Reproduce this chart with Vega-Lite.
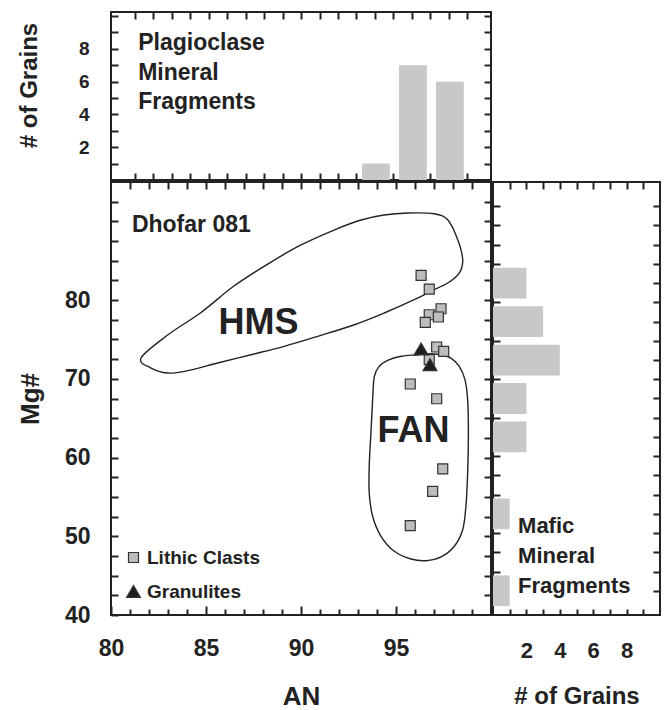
{
  "$schema": "https://vega.github.io/schema/vega-lite/v6.json",
  "padding": {"top": 6, "left": 16, "right": 5, "bottom": 0},
  "spacing": -2,
  "config": {
    "view": {"stroke": "#222", "strokeWidth": 2},
    "font": "Liberation Sans",
    "axis": {"domain": false, "grid": false, "tickColor": "#222", "tickWidth": 2, "labelFont": "Liberation Sans", "labelFontWeight": "bold", "labelColor": "#222", "titleFont": "Liberation Sans", "titleFontWeight": "bold", "titleColor": "#222", "labelFlush": false, "labelOverlap": false},
    "text": {"font": "Liberation Sans", "fontWeight": "bold", "color": "#222"}
  },
  "datasets": {
    "plag": [
      {"start": 93.3, "end": 94.8, "count": 1},
      {"start": 95.3, "end": 96.8, "count": 7},
      {"start": 97.3, "end": 98.8, "count": 6}
    ],
    "plagText": [
      {"x": 81.2, "y": 8.35, "label": "Plagioclase"},
      {"x": 81.2, "y": 6.52, "label": "Mineral"},
      {"x": 81.2, "y": 4.76, "label": "Fragments"}
    ],
    "mafic": [
      {"lo": 80.5, "hi": 84.5, "count": 2},
      {"lo": 75.5, "hi": 79.5, "count": 3},
      {"lo": 70.5, "hi": 74.5, "count": 4},
      {"lo": 65.5, "hi": 69.5, "count": 2},
      {"lo": 60.5, "hi": 64.5, "count": 2},
      {"lo": 50.5, "hi": 54.5, "count": 1},
      {"lo": 40.5, "hi": 44.5, "count": 1}
    ],
    "maficText": [
      {"x": 1.5, "y": 50.9, "label": "Mafic"},
      {"x": 1.5, "y": 47.0, "label": "Mineral"},
      {"x": 1.5, "y": 43.1, "label": "Fragments"}
    ],
    "outline": [
      {"region": "HMS", "i": 0, "an": 81.58, "mg": 72.64},
      {"region": "HMS", "i": 1, "an": 82.98, "mg": 75.56},
      {"region": "HMS", "i": 2, "an": 84.74, "mg": 78.43},
      {"region": "HMS", "i": 3, "an": 86.47, "mg": 81.79},
      {"region": "HMS", "i": 4, "an": 88.25, "mg": 84.58},
      {"region": "HMS", "i": 5, "an": 90.0, "mg": 87.0},
      {"region": "HMS", "i": 6, "an": 91.74, "mg": 88.9},
      {"region": "HMS", "i": 7, "an": 93.16, "mg": 90.17},
      {"region": "HMS", "i": 8, "an": 94.37, "mg": 90.8},
      {"region": "HMS", "i": 9, "an": 95.62, "mg": 91.06},
      {"region": "HMS", "i": 10, "an": 97.0, "mg": 90.97},
      {"region": "HMS", "i": 11, "an": 97.72, "mg": 90.2},
      {"region": "HMS", "i": 12, "an": 98.25, "mg": 87.67},
      {"region": "HMS", "i": 13, "an": 98.51, "mg": 85.13},
      {"region": "HMS", "i": 14, "an": 98.33, "mg": 83.44},
      {"region": "HMS", "i": 15, "an": 97.72, "mg": 82.17},
      {"region": "HMS", "i": 16, "an": 96.84, "mg": 81.12},
      {"region": "HMS", "i": 17, "an": 95.96, "mg": 80.05},
      {"region": "HMS", "i": 18, "an": 94.38, "mg": 78.36},
      {"region": "HMS", "i": 19, "an": 92.81, "mg": 76.87},
      {"region": "HMS", "i": 20, "an": 90.88, "mg": 75.4},
      {"region": "HMS", "i": 21, "an": 89.12, "mg": 74.13},
      {"region": "HMS", "i": 22, "an": 87.37, "mg": 73.06},
      {"region": "HMS", "i": 23, "an": 85.62, "mg": 72.01},
      {"region": "HMS", "i": 24, "an": 83.86, "mg": 70.95},
      {"region": "HMS", "i": 25, "an": 82.98, "mg": 70.74},
      {"region": "HMS", "i": 26, "an": 82.11, "mg": 71.37},
      {"region": "FAN", "i": 0, "an": 96.14, "mg": 73.06},
      {"region": "FAN", "i": 1, "an": 95.26, "mg": 72.86},
      {"region": "FAN", "i": 2, "an": 94.56, "mg": 72.35},
      {"region": "FAN", "i": 3, "an": 94.12, "mg": 71.59},
      {"region": "FAN", "i": 4, "an": 93.86, "mg": 70.32},
      {"region": "FAN", "i": 5, "an": 93.77, "mg": 67.35},
      {"region": "FAN", "i": 6, "an": 93.68, "mg": 63.12},
      {"region": "FAN", "i": 7, "an": 93.59, "mg": 58.89},
      {"region": "FAN", "i": 8, "an": 93.59, "mg": 55.5},
      {"region": "FAN", "i": 9, "an": 93.77, "mg": 52.54},
      {"region": "FAN", "i": 10, "an": 94.21, "mg": 50.0},
      {"region": "FAN", "i": 11, "an": 94.91, "mg": 48.09},
      {"region": "FAN", "i": 12, "an": 95.79, "mg": 47.11},
      {"region": "FAN", "i": 13, "an": 96.58, "mg": 46.9},
      {"region": "FAN", "i": 14, "an": 97.37, "mg": 47.37},
      {"region": "FAN", "i": 15, "an": 98.07, "mg": 48.73},
      {"region": "FAN", "i": 16, "an": 98.51, "mg": 50.83},
      {"region": "FAN", "i": 17, "an": 98.68, "mg": 53.81},
      {"region": "FAN", "i": 18, "an": 98.77, "mg": 58.04},
      {"region": "FAN", "i": 19, "an": 98.81, "mg": 63.12},
      {"region": "FAN", "i": 20, "an": 98.77, "mg": 67.35},
      {"region": "FAN", "i": 21, "an": 98.63, "mg": 69.89},
      {"region": "FAN", "i": 22, "an": 98.33, "mg": 71.59},
      {"region": "FAN", "i": 23, "an": 97.89, "mg": 72.64},
      {"region": "FAN", "i": 24, "an": 97.37, "mg": 73.06},
      {"region": "FAN", "i": 25, "an": 96.67, "mg": 73.19}
    ],
    "pts": [
      {"type": "Lithic Clasts", "an": 96.32, "mg": 83.15},
      {"type": "Lithic Clasts", "an": 96.75, "mg": 81.4},
      {"type": "Lithic Clasts", "an": 97.37, "mg": 78.9},
      {"type": "Lithic Clasts", "an": 96.75, "mg": 78.14},
      {"type": "Lithic Clasts", "an": 97.23, "mg": 77.85},
      {"type": "Lithic Clasts", "an": 96.54, "mg": 77.18},
      {"type": "Lithic Clasts", "an": 97.14, "mg": 74.04},
      {"type": "Lithic Clasts", "an": 97.51, "mg": 73.49},
      {"type": "Lithic Clasts", "an": 96.75, "mg": 72.43},
      {"type": "Lithic Clasts", "an": 95.75, "mg": 69.34},
      {"type": "Lithic Clasts", "an": 97.14, "mg": 67.47},
      {"type": "Lithic Clasts", "an": 97.46, "mg": 58.55},
      {"type": "Lithic Clasts", "an": 96.93, "mg": 55.71},
      {"type": "Lithic Clasts", "an": 95.75, "mg": 51.34},
      {"type": "Granulites", "an": 96.32, "mg": 73.8},
      {"type": "Granulites", "an": 96.79, "mg": 71.8}
    ],
    "notes": [
      {"an": 81.1, "mg": 89.6, "label": "Dhofar 081"}
    ],
    "fields": [
      {"an": 87.76, "mg": 77.09, "label": "HMS"},
      {"an": 95.92, "mg": 63.43, "label": "FAN"}
    ]
  },
  "vconcat": [
    {
      "width": 380,
      "height": 168,
      "layer": [
        {
          "data": {"name": "plag"},
          "mark": {"type": "bar", "orient": "vertical", "color": "#c8c8c8"},
          "encoding": {
            "x": {"field": "start", "type": "quantitative", "scale": {"domain": [80, 100], "nice": false, "zero": false},
              "axis": {"orient": "bottom", "values": [81,82,83,84,85,86,87,88,89,90,91,92,93,94,95,96,97,98,99], "labels": false, "tickSize": -7, "title": null, "minExtent": 0, "maxExtent": 0}},
            "x2": {"field": "end"},
            "y": {"field": "count", "type": "quantitative", "scale": {"domain": [0, 10.25], "nice": false},
              "axis": {"orient": "left", "values": [1,2,3,4,5,6,7,8,9,10], "labelExpr": "datum.value % 2 === 0 && datum.value < 10 ? datum.label : ''", "tickSize": -7, "labelPadding": 29, "labelFontSize": 19, "title": "# of Grains", "titleFontSize": 24, "titlePadding": 20, "titleY": 73, "minExtent": 50, "maxExtent": 50}}
          }
        },
        {
          "data": {"name": "plagText"},
          "mark": {"type": "text", "align": "left", "baseline": "middle", "fontSize": 23},
          "encoding": {
            "x": {"field": "x", "type": "quantitative", "scale": {"domain": [80, 100], "nice": false, "zero": false},
              "axis": {"orient": "top", "values": [81,82,83,84,85,86,87,88,89,90,91,92,93,94,95,96,97,98,99], "labels": false, "tickSize": -7, "title": null, "minExtent": 0, "maxExtent": 0}},
            "y": {"field": "y", "type": "quantitative", "scale": {"domain": [0, 10.25], "nice": false},
              "axis": {"orient": "right", "values": [1,2,3,4,5,6,7,8,9,10], "labels": false, "tickSize": -7, "title": null, "minExtent": 0, "maxExtent": 0}},
            "text": {"field": "label"}
          }
        }
      ],
      "resolve": {"axis": {"x": "independent", "y": "independent"}}
    },
    {
      "spacing": -2,
      "hconcat": [
        {
          "width": 380,
          "height": 433,
          "layer": [
            {
              "data": {"name": "outline"},
              "mark": {"type": "line", "interpolate": "cardinal-closed", "color": "#222", "strokeWidth": 1.4},
              "encoding": {
                "x": {"field": "an", "type": "quantitative", "scale": {"domain": [80, 100], "nice": false, "zero": false},
                  "axis": {"orient": "bottom", "values": [80,81,82,83,84,85,86,87,88,89,90,91,92,93,94,95,96,97,98,99], "labelExpr": "datum.value % 5 === 0 ? datum.label : ''", "tickSize": {"condition": {"test": "datum.value % 5 === 0", "value": -9}, "value": -6}, "labelPadding": 31, "labelFontSize": 23, "title": "AN", "titleFontSize": 26, "titlePadding": 18, "minExtent": 50, "maxExtent": 50}},
                "y": {"field": "mg", "type": "quantitative", "scale": {"domain": [40, 95], "nice": false, "zero": false},
                  "axis": {"orient": "left", "values": [40,42.5,45,47.5,50,52.5,55,57.5,60,62.5,65,67.5,70,72.5,75,77.5,80,82.5,85,87.5,90,92.5], "labelExpr": "datum.value % 10 === 0 && datum.value <= 80 ? datum.label : ''", "tickSize": -7, "labelPadding": 28, "labelFontSize": 23, "title": "Mg#", "titleFontSize": 26, "titlePadding": 18, "minExtent": 50, "maxExtent": 50}},
                "detail": {"field": "region"},
                "order": {"field": "i", "type": "quantitative"}
              }
            },
            {
              "data": {"name": "pts"},
              "mark": {"type": "point", "filled": true, "opacity": 1, "stroke": "#333", "strokeWidth": 1.2},
              "encoding": {
                "x": {"field": "an", "type": "quantitative", "scale": {"domain": [80, 100], "nice": false, "zero": false},
                  "axis": {"orient": "top", "values": [81,82,83,84,85,86,87,88,89,90,91,92,93,94,95,96,97,98,99], "labels": false, "tickSize": -7, "title": null, "minExtent": 0, "maxExtent": 0}},
                "y": {"field": "mg", "type": "quantitative", "scale": {"domain": [40, 95], "nice": false, "zero": false},
                  "axis": {"orient": "right", "values": [42.5,45,47.5,50,52.5,55,57.5,60,62.5,65,67.5,70,72.5,75,77.5,80,82.5,85,87.5,90,92.5], "labels": false, "tickSize": -7, "title": null, "minExtent": 0, "maxExtent": 0}},
                "shape": {"field": "type", "type": "nominal", "scale": {"domain": ["Lithic Clasts", "Granulites"], "range": ["square", "triangle-up"]},
                  "legend": {"title": null, "orient": "bottom-left", "offset": 13, "padding": 0, "symbolOffset": 0, "labelOffset": 4, "labelFontSize": 19, "labelFont": "Liberation Sans", "labelFontWeight": "bold", "labelColor": "#222", "rowPadding": 14, "symbolSize": 100, "symbolStrokeColor": "#333", "symbolStrokeWidth": 1.2}},
                "color": {"field": "type", "type": "nominal", "scale": {"domain": ["Lithic Clasts", "Granulites"], "range": ["#bdbdbd", "#1e1e1e"]},
                  "legend": {"title": null, "orient": "bottom-left", "offset": 13, "padding": 0, "symbolOffset": 0, "labelOffset": 4, "labelFontSize": 19, "labelFont": "Liberation Sans", "labelFontWeight": "bold", "labelColor": "#222", "rowPadding": 14, "symbolSize": 100, "symbolStrokeColor": "#333", "symbolStrokeWidth": 1.2}},
                "size": {"field": "type", "type": "nominal", "scale": {"domain": ["Lithic Clasts", "Granulites"], "range": [100, 190]}, "legend": null}
              }
            },
            {
              "data": {"name": "notes"},
              "mark": {"type": "text", "align": "left", "baseline": "middle", "fontSize": 23},
              "encoding": {
                "x": {"field": "an", "type": "quantitative", "scale": {"domain": [80, 100], "nice": false, "zero": false}, "axis": null},
                "y": {"field": "mg", "type": "quantitative", "scale": {"domain": [40, 95], "nice": false, "zero": false}, "axis": null},
                "text": {"field": "label"}
              }
            },
            {
              "data": {"name": "fields"},
              "mark": {"type": "text", "align": "center", "baseline": "middle", "fontSize": 36},
              "encoding": {
                "x": {"field": "an", "type": "quantitative", "scale": {"domain": [80, 100], "nice": false, "zero": false}, "axis": null},
                "y": {"field": "mg", "type": "quantitative", "scale": {"domain": [40, 95], "nice": false, "zero": false}, "axis": null},
                "text": {"field": "label"}
              }
            }
          ],
          "resolve": {"axis": {"x": "independent", "y": "independent"}}
        },
        {
          "width": 167,
          "height": 433,
          "layer": [
            {
              "data": {"name": "mafic"},
              "mark": {"type": "bar", "orient": "horizontal", "color": "#c8c8c8"},
              "encoding": {
                "x": {"field": "count", "type": "quantitative", "scale": {"domain": [0, 10], "nice": false},
                  "axis": {"orient": "bottom", "values": [1,2,3,4,5,6,7,8,9], "labelExpr": "datum.value % 2 === 0 ? datum.label : ''", "tickSize": -6, "labelPadding": 31, "labelFontSize": 22, "title": "# of Grains", "titleFontSize": 24, "titlePadding": 19, "minExtent": 50, "maxExtent": 50}},
                "y": {"field": "lo", "type": "quantitative", "scale": {"domain": [40, 95], "nice": false, "zero": false},
                  "axis": {"orient": "left", "values": [42.5,45,47.5,50,52.5,55,57.5,60,62.5,65,67.5,70,72.5,75,77.5,80,82.5,85,87.5,90,92.5], "labels": false, "tickSize": -7, "title": null, "minExtent": 0, "maxExtent": 0}},
                "y2": {"field": "hi"}
              }
            },
            {
              "data": {"name": "maficText"},
              "mark": {"type": "text", "align": "left", "baseline": "middle", "fontSize": 22},
              "encoding": {
                "x": {"field": "x", "type": "quantitative", "scale": {"domain": [0, 10], "nice": false},
                  "axis": {"orient": "top", "values": [1,2,3,4,5,6,7,8,9], "labels": false, "tickSize": -7, "title": null, "minExtent": 0, "maxExtent": 0}},
                "y": {"field": "y", "type": "quantitative", "scale": {"domain": [40, 95], "nice": false, "zero": false},
                  "axis": {"orient": "right", "values": [42.5,45,47.5,50,52.5,55,57.5,60,62.5,65,67.5,70,72.5,75,77.5,80,82.5,85,87.5,90,92.5], "labels": false, "tickSize": -7, "title": null, "minExtent": 0, "maxExtent": 0}},
                "text": {"field": "label"}
              }
            }
          ],
          "resolve": {"axis": {"x": "independent", "y": "independent"}}
        }
      ],
      "resolve": {"scale": {"color": "independent", "shape": "independent", "size": "independent"}, "legend": {"color": "independent", "shape": "independent", "size": "independent"}}
    }
  ],
  "resolve": {"scale": {"x": "independent", "y": "independent", "color": "independent", "shape": "independent", "size": "independent"}, "legend": {"color": "independent", "shape": "independent", "size": "independent"}},
  "background": "white"
}
